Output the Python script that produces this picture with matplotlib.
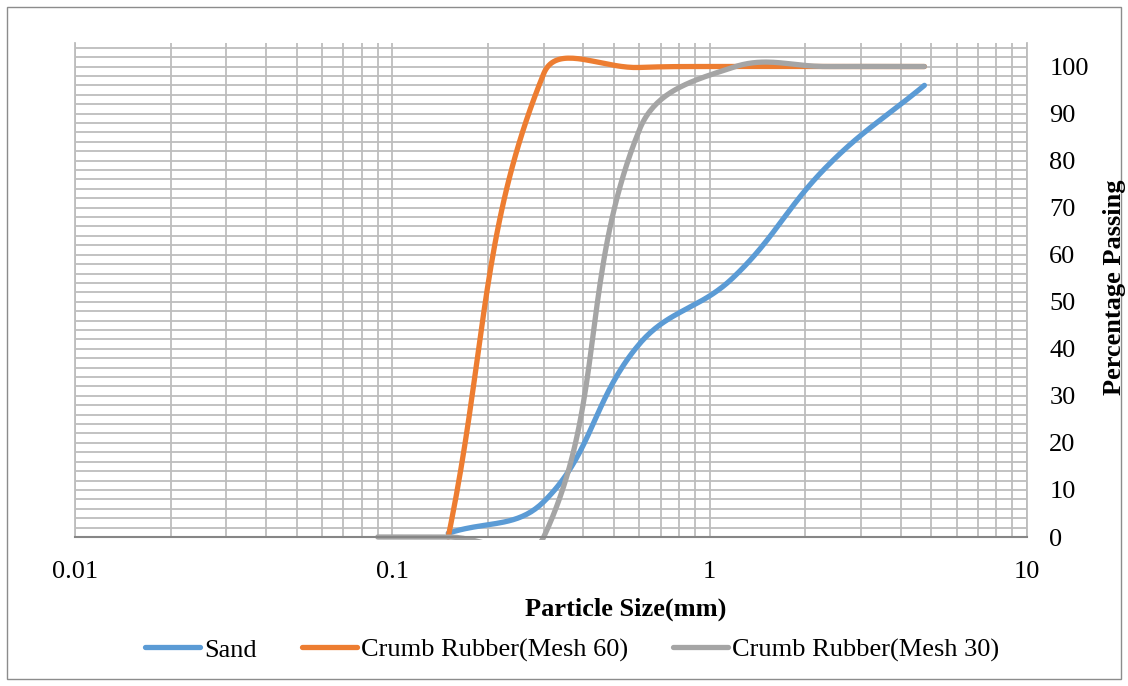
import numpy as np
import matplotlib
matplotlib.use("Agg")
import matplotlib.pyplot as plt
from matplotlib.ticker import MultipleLocator, LogLocator, NullFormatter, FixedLocator, FixedFormatter
from matplotlib.transforms import Bbox, TransformedBbox, blended_transform_factory
from matplotlib.patches import Rectangle

# ---- data ----
sieve_sizes = [0.09, 0.15, 0.3, 0.6, 1.18, 2.36, 4.75]
sand = [None, 0.8, 7.5, 41, 55, 79, 96]
crumb_mesh60 = [None, 0, 98.5, 99.8, 100, 100, 100]
crumb_mesh30 = [0, 0, 0, 86.5, 99.8, 100, 100]
series_names = ["Sand", "Crumb Rubber(Mesh 60)", "Crumb Rubber(Mesh 30)"]
series_colors = ["#5B9BD5", "#ED7D31", "#A5A5A5"]
x_tick_values = [0.01, 0.1, 1, 10]
x_tick_labels = ["0.01", "0.1", "1", "10"]

plt.rcParams['font.family'] = ['Liberation Serif', 'DejaVu Serif']

W, H = 1128, 686
fig = plt.figure(figsize=(W / 100, H / 100), dpi=100)
L, R, T, B = 75, 1027, 43, 537
ax = fig.add_axes([L / W, 1 - B / H, (R - L) / W, (B - T) / H])
ax.set_xscale('log')
ax.set_xlim(0.01, 10)
ax.set_ylim(0, 105)

# pixel scales for Excel-like smoothing (done in screen space)
SX = (R - L) / 3.0
SY = (B - T) / 105.0


def excel_smooth(xs, ys, f=0.4, n=40):
    pts = [(x, y) for x, y in zip(xs, ys) if y is not None]
    P = np.array([[np.log10(x) * SX, y * SY] for x, y in pts], float)
    m = len(P)
    out = [P[0]]
    for i in range(m - 1):
        p0 = P[i - 1] if i > 0 else P[i]
        p1 = P[i]
        p2 = P[i + 1]
        p3 = P[i + 2] if i + 2 < m else P[i + 1]
        d01 = np.linalg.norm(p1 - p0)
        d12 = np.linalg.norm(p2 - p1)
        d23 = np.linalg.norm(p3 - p2)
        w1 = d12 / (d01 + d12) if d01 + d12 > 0 else 0
        w2 = d12 / (d12 + d23) if d12 + d23 > 0 else 0
        c1 = p1 + f * w1 * (p2 - p0)
        c2 = p2 - f * w2 * (p3 - p1)
        t = np.linspace(0, 1, n)[1:, None]
        seg = ((1 - t) ** 3) * p1 + 3 * ((1 - t) ** 2) * t * c1 + 3 * (1 - t) * t ** 2 * c2 + t ** 3 * p2
        out.extend(seg)
    out = np.array(out)
    return 10 ** (out[:, 0] / SX), out[:, 1] / SY


# grid
ax.xaxis.set_major_locator(FixedLocator(x_tick_values))
ax.xaxis.set_major_formatter(FixedFormatter(x_tick_labels))
ax.xaxis.set_minor_locator(LogLocator(base=10, subs=np.arange(2, 10)))
ax.xaxis.set_minor_formatter(NullFormatter())
ax.yaxis.set_major_locator(MultipleLocator(10))
ax.yaxis.set_minor_locator(MultipleLocator(2))
ax.grid(True, which='both', color='#BDBDBD', lw=1.3)
ax.set_axisbelow(True)
ax.tick_params(which='both', length=0)
ax.tick_params(axis='x', pad=17, labelsize=19)
ax.yaxis.tick_right()
ax.tick_params(axis='y', pad=16, labelsize=19)
for lab in ax.get_yticklabels():
    lab.set_horizontalalignment('left')
ax.spines['top'].set_visible(False)
for s in ['left', 'right']:
    ax.spines[s].set_color('#BDBDBD')
    ax.spines[s].set_linewidth(1.3)
ax.spines['bottom'].set_color('#868686')
ax.spines['bottom'].set_linewidth(1.5)

clip = TransformedBbox(Bbox([[0.0, -2.5 / SY], [1.0, 105.0]]),
                       blended_transform_factory(ax.transAxes, ax.transData))

handles = []
for name, vals, col in zip(series_names, [sand, crumb_mesh60, crumb_mesh30], series_colors):
    xs, ys = excel_smooth(sieve_sizes, vals)
    ln, = ax.plot(xs, ys, color=col, lw=3.8, solid_capstyle='round', solid_joinstyle='round', label=name)
    ln.set_clip_box(clip)
    handles.append(ln)

fig.text(626 / W, 1 - 609 / H, "Particle Size(mm)", ha='center', va='center', fontsize=19, fontweight='bold')
fig.text(1115 / W, 1 - 287 / H, "Percentage Passing", ha='center', va='center', rotation=90,
         fontsize=19, fontweight='bold')

leg = fig.legend(handles=handles, loc='center', bbox_to_anchor=(572 / W, 1 - 650 / H), ncol=3,
                 frameon=False, fontsize=19, handlelength=2.1, handletextpad=0.15, columnspacing=1.7)

fig.patches.append(Rectangle((7 / W, 7 / H), 1 - 14 / W, 1 - 14 / H, transform=fig.transFigure,
                             fill=False, edgecolor='#8C8C8C', lw=1))

fig.savefig("out.png", dpi=100)
